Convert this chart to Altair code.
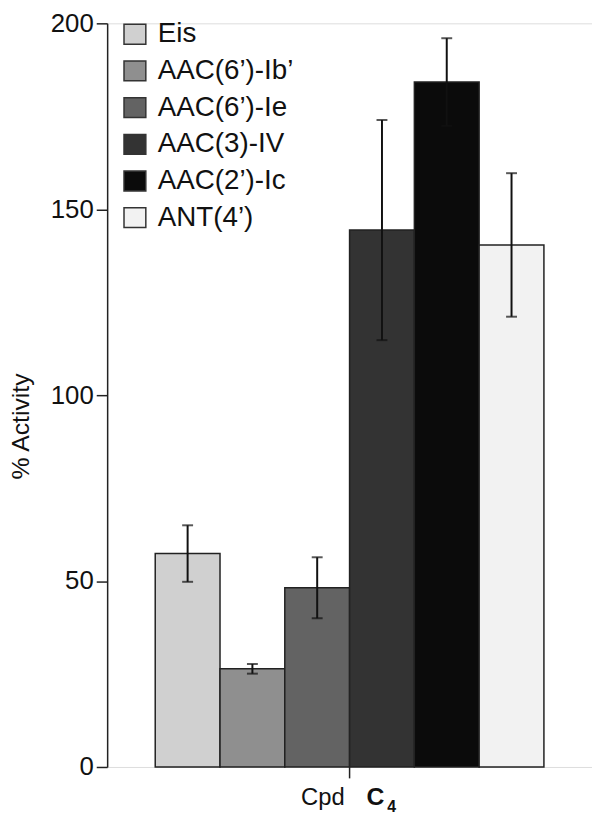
import altair as alt
import pandas as pd

enzymes = ["Eis", "AAC(6’)-Ib’", "AAC(6’)-Ie", "AAC(3)-IV", "AAC(2’)-Ic", "ANT(4’)"]
activity = [57.4, 26.4, 48.2, 144.4, 184.2, 140.4]
errors = [7.6, 1.3, 8.2, 29.6, 11.8, 19.3]
colors = ["#d0d0d0", "#8f8f8f", "#636363", "#333333", "#0b0b0b", "#f2f2f2"]
compound = "Cpd C4"

df = pd.DataFrame({
    "cpd": [compound] * len(enzymes),
    "enzyme": enzymes,
    "activity": activity,
    "lo": [a - e for a, e in zip(activity, errors)],
    "hi": [a + e for a, e in zip(activity, errors)],
})

FONT = "Liberation Sans"
W, H = 489, 750

x_enc = alt.X("cpd:N", title=None,
              scale=alt.Scale(paddingOuter=0.1237, paddingInner=0),
              axis=alt.Axis(labels=False, ticks=True, tickSize=11, tickWidth=1.5,
                            tickColor="#222", domain=False))
off_enc = alt.XOffset("enzyme:N", sort=enzymes, scale=alt.Scale(paddingInner=0, paddingOuter=0))

base = alt.Chart(df)

bars = base.mark_bar(stroke="#222", strokeWidth=1.5).encode(
    x=x_enc,
    xOffset=off_enc,
    y=alt.Y("activity:Q", title="% Activity",
            scale=alt.Scale(domain=[0, 200], nice=False),
            axis=alt.Axis(values=[0, 50, 100, 150, 200], tickSize=11, tickWidth=1.5,
                          tickColor="#222", labelFontSize=26, labelFont=FONT,
                          labelColor="#111", labelPadding=3, grid=False,
                          domain=True, domainColor="#222", domainWidth=1.5,
                          titleFont=FONT, titleFontSize=25, titleFontWeight="normal",
                          titleColor="#111", titlePadding=17, titleY=406)),
    color=alt.Color("enzyme:N", sort=enzymes,
                    scale=alt.Scale(domain=enzymes, range=colors),
                    legend=alt.Legend(title=None, orient="none", legendX=14, legendY=-3,
                                      labelFont=FONT, labelFontSize=28, labelColor="#111",
                                      symbolType="M-1.1,-1H1.1V1H-1.1Z", symbolSize=400,
                                      symbolStrokeColor="#333", symbolStrokeWidth=1.5,
                                      symbolOpacity=1, rowPadding=9, labelOffset=9)),
)

rules = base.mark_rule(color="#111", strokeWidth=2).encode(
    x=alt.X("cpd:N"), xOffset=off_enc,
    y="lo:Q", y2="hi:Q",
)
caps_hi = base.mark_tick(color="#111", orient="horizontal", size=11, thickness=2).encode(
    x=alt.X("cpd:N"), xOffset=off_enc, y="hi:Q",
)
caps_lo = base.mark_tick(color="#111", orient="horizontal", size=11, thickness=2).encode(
    x=alt.X("cpd:N"), xOffset=off_enc, y="lo:Q",
)

lab = pd.DataFrame({"cpd": [compound]})
t1 = alt.Chart(lab).mark_text(text="Cpd", font=FONT, fontSize=24, align="right",
                              baseline="alphabetic", dx=-5, color="#111").encode(
    x=alt.X("cpd:N"), y=alt.value(H + 38))
t2 = alt.Chart(lab).mark_text(text="C", font=FONT, fontSize=25, fontWeight="bold",
                              align="left", baseline="alphabetic", dx=17, color="#111").encode(
    x=alt.X("cpd:N"), y=alt.value(H + 38))
t3 = alt.Chart(lab).mark_text(text="4", font=FONT, fontSize=16, fontWeight="bold",
                              align="left", baseline="alphabetic", dx=38, color="#111").encode(
    x=alt.X("cpd:N"), y=alt.value(H + 45))

chart = alt.layer(bars, rules, caps_hi, caps_lo, t1, t2, t3).properties(
    width=W, height=H,
    autosize=alt.AutoSizeParams(type="none"),
    padding={"left": 100, "top": 12, "right": 0, "bottom": 50},
).configure_view(stroke="#222", strokeWidth=1.5).configure(background="white")

chart.save("out.html", embed_options={"renderer": "svg", "actions": False})
